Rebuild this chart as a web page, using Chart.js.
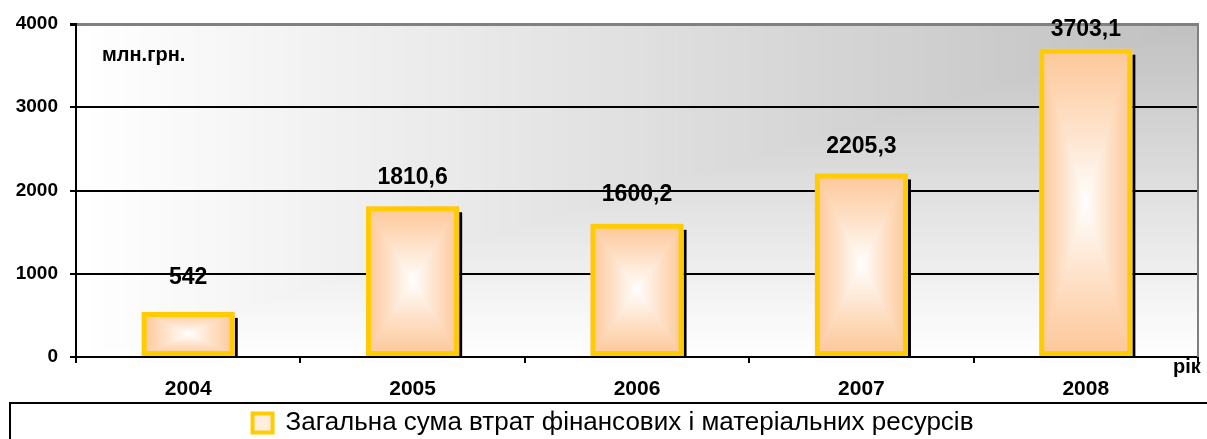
<!DOCTYPE html>
<html><head><meta charset="utf-8">
<script src="https://cdn.jsdelivr.net/npm/chart.js@4"></script>
<style>html,body{margin:0;padding:0;background:#fff}#wrap{width:1207px;height:439px}</style>
</head><body><div id="wrap"><canvas id="c" width="1207" height="439"></canvas></div>
<script>
const categories = ['2004', '2005', '2006', '2007', '2008'];
const values = [542, 1810.6, 1600.2, 2205.3, 3703.1];
const valueLabels = ['542', '1810,6', '1600,2', '2205,3', '3703,1'];
const seriesName = 'Загальна сума втрат фінансових і матеріальних ресурсів';
const yTicks = [0, 1000, 2000, 3000, 4000];
const unitLabel = 'млн.грн.';
const axisLabel = 'рік';

const F = '"Liberation Sans", Arial, sans-serif';
const GOLD = '#FFCC00';

function lerpColor(a, b, t) {
  const r = Math.round(a[0] + (b[0] - a[0]) * t);
  const g = Math.round(a[1] + (b[1] - a[1]) * t);
  const bl = Math.round(a[2] + (b[2] - a[2]) * t);
  return 'rgb(' + r + ',' + g + ',' + bl + ')';
}

const decor = {
  id: 'decor',
  afterLayout(chart) {
    const lg = chart.legend;
    lg.top += 7; lg.bottom += 7;
    lg.left += 14; lg.right += 14;
  },
  beforeDraw(chart) {
    const ctx = chart.ctx;
    const a = chart.chartArea;
    ctx.save();
    ctx.fillStyle = '#fff';
    ctx.fillRect(0, 0, chart.width, chart.height);
    const W = a.right - a.left, H = a.bottom - a.top;
    const N = 160;
    const corner = [192, 192, 192], white = [255, 255, 255];
    for (let i = N; i >= 1; i--) {
      const t = i / N;
      ctx.fillStyle = lerpColor(corner, white, t);
      ctx.fillRect(a.right - t * W, a.top, t * W + 0.5, t * H + 0.5);
    }
    ctx.restore();
  },
  beforeDatasetsDraw(chart) {
    const ctx = chart.ctx;
    const meta = chart.getDatasetMeta(0);
    const edge = [253, 200, 154], center = [255, 255, 255];
    ctx.save();
    meta.data.forEach(bar => {
      const p = bar.getProps(['x', 'y', 'base', 'width'], true);
      const l = p.x - p.width / 2, r = p.x + p.width / 2, t = p.y, b = p.base;
      ctx.fillStyle = '#000';
      ctx.fillRect(r, t + 6, 3, b - t - 6);
      const w = r - l, h = b - t;
      const N = 40;
      for (let i = 0; i < N; i++) {
        const k = i / N;
        ctx.fillStyle = lerpColor(edge, center, Math.pow(k, 1.1));
        ctx.fillRect(l + k * w / 2, t + k * h / 2, w * (1 - k), h * (1 - k));
      }
    });
    ctx.restore();
  },
  afterDatasetsDraw(chart) {
    const ctx = chart.ctx;
    const a = chart.chartArea;
    const meta = chart.getDatasetMeta(0);
    ctx.save();
    ctx.fillStyle = '#000';
    ctx.textAlign = 'center';
    ctx.textBaseline = 'middle';
    ctx.font = 'bold 23px ' + F;
    meta.data.forEach((bar, i) => {
      const gap = 37 - 0.0048 * values[i];
      ctx.fillText(valueLabels[i], bar.x, bar.y - gap);
    });
    // right border
    ctx.strokeStyle = '#808080';
    ctx.lineWidth = 2;
    ctx.beginPath();
    ctx.moveTo(a.right, a.top - 1);
    ctx.lineTo(a.right, a.bottom);
    ctx.stroke();
    // unit label and axis name
    ctx.textAlign = 'left';
    ctx.font = 'bold 20px ' + F;
    ctx.fillText(unitLabel, a.left + 26, a.top + 31);
    ctx.fillText(axisLabel, a.right - 25, a.bottom + 10);
    ctx.restore();
  },
  afterDraw(chart) {
    const ctx = chart.ctx;
    ctx.save();
    ctx.strokeStyle = '#000';
    ctx.lineWidth = 2;
    ctx.strokeRect(10, 403, 1205, 40);
    ctx.restore();
  }
};

new Chart(document.getElementById('c'), {
  type: 'bar',
  data: {
    labels: categories,
    datasets: [{
      label: seriesName,
      data: values,
      backgroundColor: 'rgba(0,0,0,0)',
      borderColor: GOLD,
      borderWidth: 5,
      borderSkipped: false,
      barPercentage: 0.415,
      categoryPercentage: 1
    }]
  },
  options: {
    responsive: false,
    animation: false,
    layout: { padding: { top: 24, right: 9, left: 0, bottom: 0 } },
    plugins: {
      tooltip: { enabled: false },
      legend: {
        position: 'bottom',
        labels: {
          font: { family: F, size: 26 },
          color: '#000',
          boxWidth: 20,
          boxHeight: 19,
          padding: 0,
          generateLabels: () => [{
            text: seriesName, fillStyle: '#FFEEDD', strokeStyle: GOLD, lineWidth: 4, datasetIndex: 0
          }]
        }
      }
    },
    scales: {
      x: {
        grid: { offset: true, drawOnChartArea: false, drawTicks: true, tickLength: 6, color: '#000', lineWidth: 2 },
        border: { color: '#000', width: 2 },
        ticks: { font: { family: F, size: 21, weight: 'bold' }, color: '#000', padding: 14 },
        afterFit: s => { s.height = 46; }
      },
      y: {
        min: 0, max: 4000,
        afterBuildTicks: s => { s.ticks = yTicks.map(v => ({ value: v })); },
        ticks: { font: { family: F, size: 19, weight: 'bold' }, color: '#000', padding: 12, callback: v => String(v) },
        grid: {
          color: c => (c.tick && c.tick.value === 4000) ? '#808080' : '#000',
          lineWidth: c => (c.tick && c.tick.value === 4000) ? 3 : 2,
          tickColor: '#000', tickLength: 6
        },
        border: { color: '#000', width: 2 },
        afterFit: s => { s.width = 76; }
      }
    }
  },
  plugins: [decor]
});
</script></body></html>
